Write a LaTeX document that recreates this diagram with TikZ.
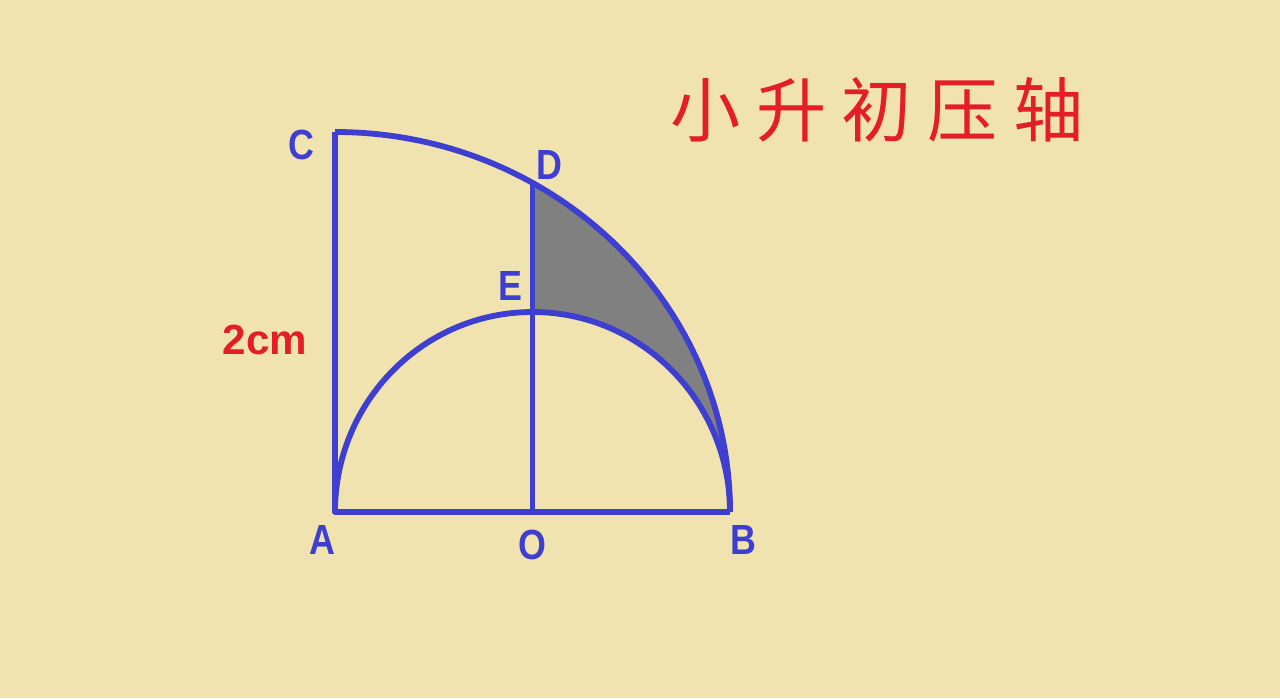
\documentclass[tikz,border=0pt]{standalone}
\usepackage{fontspec}
\setmainfont{Liberation Sans}
\newfontfamily\cjk{Noto Sans CJK SC}
\definecolor{bgc}{RGB}{240,227,176}
\definecolor{geo}{RGB}{62,62,208}
\definecolor{redt}{RGB}{228,30,40}
\definecolor{grayfill}{RGB}{128,128,128}
\tikzset{
  edge/.style={draw=geo,line width=3.3pt,line join=round},
  ptlabel/.style={text=geo,font=\bfseries\fontsize{24}{26}\selectfont,inner sep=0pt,xscale=0.85},
}
\begin{document}
\begin{tikzpicture}[x=0.02cm,y=0.02cm]
\fill[bgc] (0,0) rectangle (1280,698);
\useasboundingbox (0,0) rectangle (1280,698);
\coordinate (A) at (335,186);
\coordinate (B) at (730,186);
\coordinate (C) at (335,566);
\coordinate (O) at (532.5,186);
\coordinate (E) at (532.5,386);
\coordinate (D) at (532.5,515.1);
% shaded region
\fill[grayfill] (D) -- (E) arc[start angle=90,end angle=0,x radius=197.5,y radius=200]
  arc[start angle=0,end angle=60,x radius=395,y radius=380] -- cycle;
% figure
\draw[edge] (C) -- (A) -- (B);
\draw[edge] (C) arc[start angle=90,end angle=0,x radius=395,y radius=380];
\draw[edge] (A) arc[start angle=180,end angle=0,x radius=197.5,y radius=200];
\draw[edge] (O) -- (D);
% labels
\node[ptlabel] (lC) at (301,553) {C};
\node[ptlabel] (lD) at (549,533) {D};
\node[ptlabel] (lE) at (510,412) {E};
\node[ptlabel] (lA) at (322,158) {A};
\node[ptlabel] (lO) at (532,153) {O};
\node[ptlabel] (lB) at (743,158) {B};
\node[text=redt,font=\bfseries\fontsize{24}{26}\selectfont,inner sep=0pt] (len) at (265,358) {2cm};
\node[text=redt,font=\cjk\fontsize{40}{44}\selectfont,inner sep=0pt] (title) at (877,588) {小\hspace{0.22em}升\hspace{0.22em}初\hspace{0.22em}压\hspace{0.22em}轴};
\end{tikzpicture}
\end{document}
